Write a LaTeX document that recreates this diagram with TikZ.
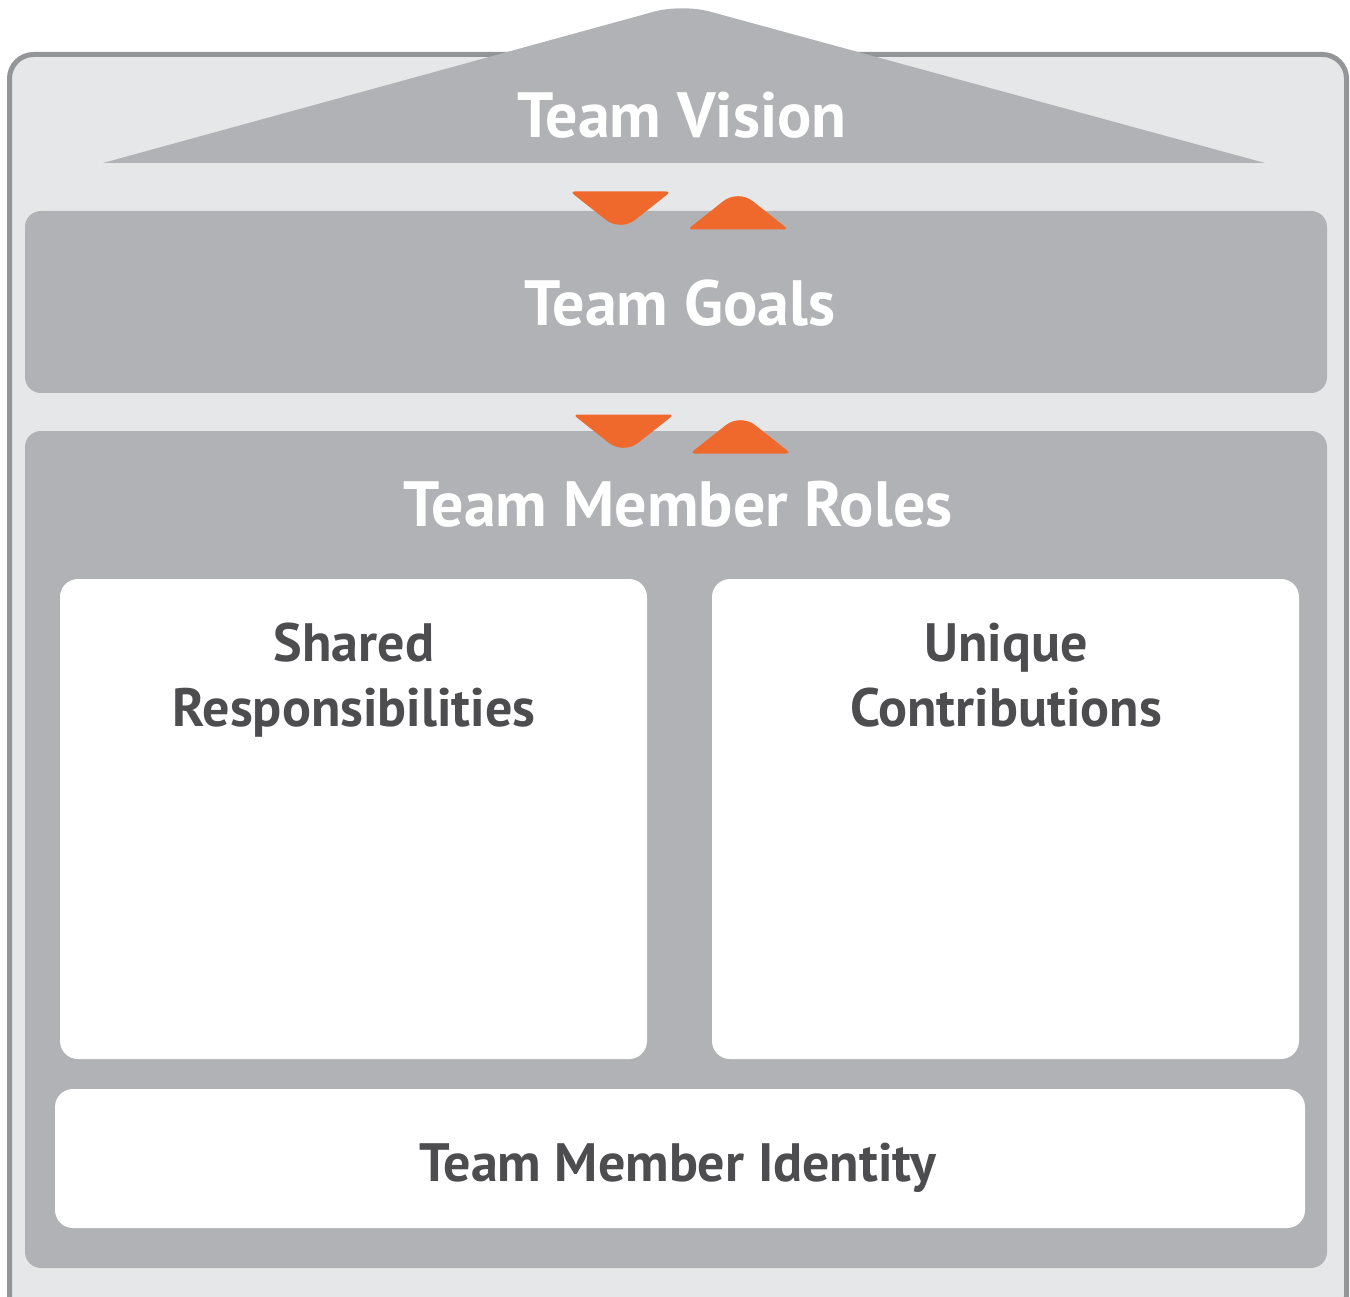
\documentclass[tikz,border=0pt]{standalone}
\usepackage{fontspec}
\setmainfont{PT Sans}
\begin{document}
\begin{tikzpicture}[x=1pt,y=-1pt,
  frame/.style={draw=framegray,line width=5pt,fill=lightbg,rounded corners=24pt},
  panel/.style={fill=panelgray,rounded corners=16pt},
  card/.style={fill=white,rounded corners=18pt},
  flow/.style={fill=accent,rounded corners=5pt},
  headlabel/.style={text=white,font=\bfseries\fontsize{64}{70}\selectfont,anchor=base,inner sep=0pt},
  cardlabel/.style={text=labelgray,font=\bfseries\fontsize{54}{65}\selectfont,anchor=base,inner sep=0pt},
  % soft triangle with a round tip; origin at the middle of its base, tip pointing down
  flowmark/.pic={\fill[flow] (0,0) -- (50.5,0) -- (18.8,25.1) .. controls (6.3,35) and (-6.3,35) .. (-18.8,25.1) -- (-50.5,0) -- cycle;}]
\definecolor{framegray}{HTML}{939598}
\definecolor{lightbg}{HTML}{E6E7E8}
\definecolor{panelgray}{HTML}{B1B2B5}
\definecolor{accent}{HTML}{F0692C}
\definecolor{labelgray}{HTML}{4D4D4F}
\useasboundingbox (0,0) rectangle (1350,1297);
\clip (0,0) rectangle (1350,1297);
% outer frame
\draw[frame] (9.5,54.5) rectangle (1346.5,1320);
% roof
\fill[panelgray] (103,163) [rounded corners=28pt] -- (682,4) [sharp corners] -- (1265,163) -- cycle;
\node[headlabel] (vision) at (682,138) {Team Vision};
% goals panel
\fill[panel] (25,211) rectangle (1327,393);
\node[headlabel] (goals) at (680,326) {Team Goals};
% roles panel
\fill[panel] (25,431) rectangle (1327,1268);
\node[headlabel] (roles) at (678,526) {Team Member Roles};
% cards
\fill[card] (60,579) rectangle (647,1059);
\fill[card] (712,579) rectangle (1299,1059);
\fill[card] (55,1089) rectangle (1305,1228);
\node[cardlabel] (shared1) at (354,661) {Shared};
\node[cardlabel] (shared2) at (354,726) {Responsibilities};
\node[cardlabel] (unique1) at (1006,661) {Unique};
\node[cardlabel] (unique2) at (1006,726) {Contributions};
\node[cardlabel] (identity) at (678,1181) {Team Member Identity};
% two-way flow markers
\pic at (620.5,191.5) {flowmark};
\pic[yscale=-1] at (738,229.5) {flowmark};
\pic at (623.5,414.5) {flowmark};
\pic[yscale=-1] at (740.5,453.5) {flowmark};
\end{tikzpicture}
\end{document}
